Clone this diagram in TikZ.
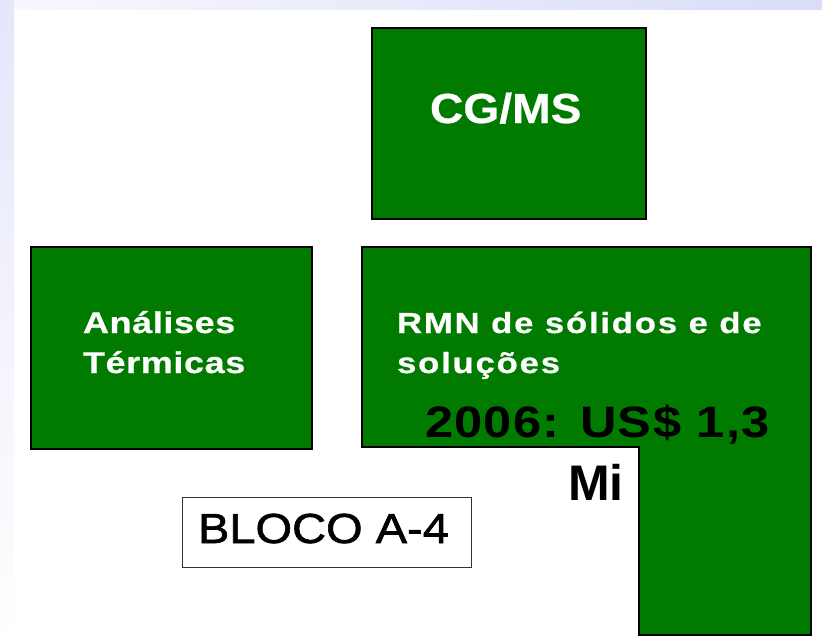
\documentclass[tikz,border=0pt]{standalone}
\usepackage{fontspec}
\setmainfont{Liberation Sans}
\definecolor{boxgreen}{RGB}{0,123,0}
\definecolor{bandblue}{RGB}{218,220,248}
\tikzset{
    greenbox/.style={rectangle,fill=boxgreen,draw=black,line width=2.5pt},
    whitebox/.style={rectangle,fill=white,draw=black!80,line width=1.2pt},
    whitetext/.style={text=white,anchor=base west,align=left},
    blacktext/.style={text=black,anchor=base west}
}
\begin{document}
\begin{tikzpicture}
    [x=1pt,y=-1pt,every node/.style={inner sep=0pt,outer sep=0pt}]
    \useasboundingbox (0,0) rectangle (822,642);
    % background bands
    \shade[left color=white!80!bandblue,right color=bandblue] (0,0) rectangle (822,10);
    \shade[top color=bandblue!70,bottom color=white] (0,0) rectangle (14,642);

    % boxes
    \node[greenbox,minimum width=274,minimum height=191] (cgms) at (509,123.5) {};
    \node[greenbox,minimum width=281,minimum height=202] (termicas) at (171.5,348) {};
    \node[whitebox,minimum width=289,minimum height=70] (bloco) at (327,532.5) {};
    \draw[greenbox] (362,247) -- (811,247) -- (811,635) -- (639,635)
        -- (639,447) -- (362,447) -- cycle;

    % labels (base of a two-line label is its last line)
    \node[whitetext,font={\bfseries\fontsize{42}{48}\selectfont\addfontfeatures{FakeStretch=1.1,FakeBold=0.6}}]
        (cgmstext) at (430,123) {CG/MS};
    \node[whitetext,font={\bfseries\fontsize{30}{40}\selectfont\addfontfeatures{FakeStretch=1.2,LetterSpace=2,FakeBold=0.6}}]
        (termtext) at (83,373) {Análises\\Térmicas};
    \node[whitetext,font={\bfseries\fontsize{29}{40}\selectfont\addfontfeatures{FakeStretch=1.2,LetterSpace=6,FakeBold=0.6}}]
        (rmntext) at (397,373) {RMN de sólidos e de\\soluções};
    \node[blacktext,font={\bfseries\fontsize{44}{50}\selectfont\addfontfeatures{FakeStretch=1.15,LetterSpace=3}}]
        (valor) at (425,437) {2006: US\$ 1,3};
    \node[blacktext,font={\bfseries\fontsize{50}{56}\selectfont}]
        (mi) at (568,500) {Mi};
    \node[blacktext,font={\fontsize{42}{48}\selectfont\addfontfeatures{FakeStretch=1.12,FakeBold=1.5}}]
        (blocotext) at (198,543) {BLOCO A-4};
\end{tikzpicture}
\end{document}
